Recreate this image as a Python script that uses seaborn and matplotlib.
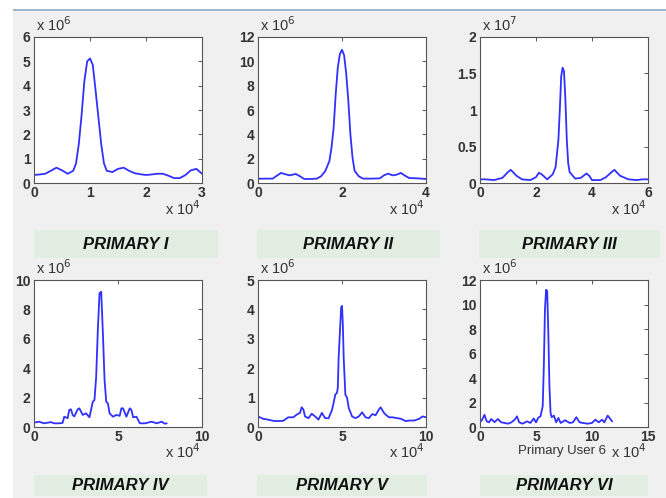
import numpy as np
import pandas as pd
import matplotlib
matplotlib.use("Agg")
import matplotlib.pyplot as plt
import matplotlib.ticker as mticker
from matplotlib.patches import Rectangle
import seaborn as sns

# ---------------- data (x in units of 1e4, y in units of the panel exponent) -------------
p1_x = [0, 0.1, 0.2, 0.3, 0.4, 0.5, 0.6, 0.7, 0.75, 0.8, 0.85, 0.9, 0.95, 1.0, 1.05, 1.1,
        1.15, 1.2, 1.25, 1.3, 1.4, 1.5, 1.6, 1.7, 1.8, 1.9, 2.0, 2.1, 2.2, 2.3, 2.4, 2.5,
        2.6, 2.7, 2.8, 2.9, 3.0]
p1_y = [0.33, 0.35, 0.38, 0.5, 0.63, 0.52, 0.38, 0.5, 0.8, 1.6, 2.8, 4.2, 5.0, 5.12, 4.85, 3.8,
        2.7, 1.6, 0.8, 0.5, 0.45, 0.58, 0.63, 0.5, 0.4, 0.36, 0.33, 0.35, 0.38, 0.38, 0.3, 0.2,
        0.2, 0.32, 0.52, 0.58, 0.38]

p2_x = [0, 0.2, 0.35, 0.45, 0.55, 0.65, 0.75, 0.9, 1.0, 1.1, 1.25, 1.4, 1.5, 1.6, 1.7, 1.75,
        1.8, 1.85, 1.9, 1.95, 2.0, 2.05, 2.1, 2.15, 2.2, 2.25, 2.3, 2.4, 2.5, 2.7, 2.9, 3.0,
        3.1, 3.2, 3.3, 3.4, 3.5, 3.6, 3.8, 4.0]
p2_y = [0.35, 0.36, 0.36, 0.6, 0.83, 0.72, 0.63, 0.74, 0.55, 0.33, 0.33, 0.36, 0.55, 0.97, 1.8, 2.9,
        4.5, 7.3, 9.5, 10.6, 10.95, 10.5, 9.0, 6.8, 4.0, 2.1, 1.0, 0.55, 0.36, 0.36, 0.38, 0.63,
        0.77, 0.63, 0.68, 0.83, 0.6, 0.41, 0.38, 0.33]

p3_x = [0, 0.2, 0.5, 0.8, 1.0, 1.1, 1.3, 1.5, 1.8, 2.0, 2.1, 2.2, 2.4, 2.6, 2.7, 2.8, 2.85,
        2.9, 2.95, 3.0, 3.05, 3.1, 3.15, 3.2, 3.4, 3.6, 3.8, 3.9, 4.0, 4.3, 4.5, 4.7, 4.8,
        5.0, 5.3, 5.6, 5.8, 6.0]
p3_y = [0.05, 0.05, 0.04, 0.07, 0.15, 0.18, 0.1, 0.05, 0.04, 0.08, 0.14, 0.12, 0.05, 0.12, 0.22,
        0.59, 1.0, 1.46, 1.58, 1.53, 1.14, 0.59, 0.27, 0.15, 0.06, 0.07, 0.13, 0.1, 0.04, 0.04,
        0.08, 0.15, 0.18, 0.1, 0.05, 0.04, 0.05, 0.05]

p4_x = [0, 0.3, 0.6, 1.0, 1.2, 1.5, 1.7, 1.8, 2.0, 2.1, 2.2, 2.3, 2.4, 2.6, 2.7, 2.9, 3.1,
        3.3, 3.5, 3.6, 3.7, 3.8, 3.9, 4.0, 4.1, 4.2, 4.3, 4.4, 4.5, 4.7, 4.9, 5.1, 5.2,
        5.3, 5.5, 5.7, 5.8, 5.9, 6.1, 6.3, 6.6, 7.0, 7.3, 7.6, 7.8, 7.9]
p4_y = [0.3, 0.36, 0.25, 0.33, 0.25, 0.25, 0.28, 0.7, 0.6, 1.16, 1.2, 0.82, 0.72, 1.2, 1.27, 0.82,
        0.93, 0.66, 1.72, 1.84, 3.4, 6.6, 9.1, 9.2, 6.4, 3.2, 1.72, 1.6, 0.93, 0.7, 0.82, 0.76,
        1.27, 1.27, 0.7, 1.27, 1.16, 0.66, 0.7, 0.25, 0.25, 0.36, 0.25, 0.36, 0.22, 0.25]

p5_x = [0, 0.3, 0.6, 1.0, 1.5, 1.8, 2.1, 2.3, 2.5, 2.6, 2.7, 2.8, 3.0, 3.2, 3.4, 3.6, 3.8,
        4.0, 4.2, 4.4, 4.5, 4.6, 4.7, 4.75, 4.8, 4.9, 4.95, 5.0, 5.05, 5.1, 5.2, 5.3, 5.4,
        5.6, 5.8, 6.0, 6.2, 6.4, 6.6, 6.8, 7.0, 7.2, 7.3, 7.5, 7.6, 7.8, 8.0, 8.5, 8.8,
        9.0, 9.3, 9.6, 9.8, 10.0]
p5_y = [0.36, 0.28, 0.25, 0.2, 0.21, 0.33, 0.33, 0.42, 0.48, 0.67, 0.6, 0.36, 0.3, 0.45, 0.36, 0.25,
        0.48, 0.3, 0.3, 0.57, 0.82, 1.1, 1.16, 1.33, 2.36, 3.5, 4.07, 4.12, 3.5, 2.36, 1.1, 1.0,
        0.65, 0.36, 0.3, 0.36, 0.5, 0.33, 0.3, 0.44, 0.4, 0.6, 0.67, 0.48, 0.42, 0.33, 0.33,
        0.28, 0.2, 0.22, 0.22, 0.28, 0.36, 0.33]

p6_x = [0, 0.2, 0.4, 0.6, 0.8, 1.0, 1.3, 1.6, 1.9, 2.2, 2.5, 2.8, 3.1, 3.3, 3.5, 3.8, 4.2,
        4.5, 4.8, 5.0, 5.2, 5.4, 5.6, 5.7, 5.8, 5.9, 6.0, 6.1, 6.2, 6.3, 6.4, 6.6, 6.8,
        7.0, 7.2, 7.6, 8.0, 8.3, 8.6, 8.9, 9.2, 9.6, 10.0, 10.3, 10.6, 10.9, 11.1, 11.4,
        11.6, 11.8]
p6_y = [0.38, 0.6, 1.0, 0.46, 0.38, 0.65, 0.4, 0.65, 0.38, 0.33, 0.27, 0.38, 0.6, 0.87, 0.38, 0.27,
        0.46, 0.33, 0.7, 0.38, 0.76, 0.87, 1.7, 5.0, 9.6, 11.2, 11.1, 7.7, 3.3, 1.15, 0.8, 0.93,
        0.38, 0.74, 0.33, 0.55, 0.33, 0.38, 0.8, 0.38, 0.33, 0.27, 0.33, 0.6, 0.38, 0.6, 0.38,
        0.93, 0.7, 0.46]

titles = ["PRIMARY I", "PRIMARY II", "PRIMARY III", "PRIMARY IV", "PRIMARY V", "PRIMARY VI"]
y_exponents = [6, 6, 7, 6, 6, 6]
x_limits = [3, 4, 6, 10, 10, 15]
x_ticks = [[0, 1, 2, 3], [0, 2, 4], [0, 2, 4, 6], [0, 5, 10], [0, 5, 10], [0, 5, 10, 15]]
y_limits = [6, 12, 2, 10, 5, 12]
y_ticks = [[0, 1, 2, 3, 4, 5, 6], [0, 2, 4, 6, 8, 10, 12], [0, 0.5, 1, 1.5, 2],
           [0, 2, 4, 6, 8, 10], [0, 1, 2, 3, 4, 5], [0, 2, 4, 6, 8, 10, 12]]
xs = [p1_x, p2_x, p3_x, p4_x, p5_x, p6_x]
ys = [p1_y, p2_y, p3_y, p4_y, p5_y, p6_y]

# ---------------- style -------------
sns.set_style("white")
plt.rcParams["font.family"] = ["Liberation Sans", "DejaVu Sans"]
W, H = 666, 498
fig = plt.figure(figsize=(W / 100, H / 100), dpi=100)
fig.patch.set_facecolor("#f0f0f0")

# white strips at top/left and blue rule
fig.patches.append(Rectangle((0, 0), 13 / W, 1, transform=fig.transFigure,
                             facecolor="white", edgecolor="none", zorder=0))
fig.patches.append(Rectangle((0, 1 - 9 / H), 1, 9 / H, transform=fig.transFigure,
                             facecolor="white", edgecolor="none", zorder=0))
fig.patches.append(Rectangle((13 / W, 1 - 11 / H), 1, 2 / H, transform=fig.transFigure,
                             facecolor="#9fb3cc", edgecolor="none", zorder=1))

cols_px = [(34, 202), (258, 426), (480, 648)]
rows_px = [(37, 183), (280, 427)]
box_px = [[(34, 218), (257, 440), (479, 660)], [(34, 207), (257, 427), (480, 648)]]
box_y_px = [(230, 258), (475, 496)]
offset_y_px = [(31, 215), (274, 458)]

tick_color = "#333333"
for i in range(6):
    r, c = divmod(i, 3)
    x0, x1 = cols_px[c]
    y0, y1 = rows_px[r]
    ax = fig.add_axes([x0 / W, 1 - y1 / H, (x1 - x0) / W, (y1 - y0) / H])
    ax.set_facecolor("white")
    df = pd.DataFrame({"x": xs[i], "y": ys[i]})
    sns.lineplot(data=df, x="x", y="y", ax=ax, color="#3030ff", lw=1.3,
                 estimator=None, sort=False)
    ax.set_xlim(0, x_limits[i])
    ax.set_ylim(0, y_limits[i])
    ax.set_xticks(x_ticks[i])
    ax.set_yticks(y_ticks[i])
    ax.xaxis.set_major_formatter(mticker.FormatStrFormatter("%g"))
    ax.yaxis.set_major_formatter(mticker.FormatStrFormatter("%g"))
    ax.set_xlabel("")
    ax.set_ylabel("")
    ax.tick_params(direction="in", length=3, width=0.7, top=True, right=True,
                   colors="#555555", labelcolor=tick_color, labelsize=10, pad=2.5)
    for lab in ax.get_xticklabels() + ax.get_yticklabels():
        lab.set_fontweight("bold")
    for s in ax.spines.values():
        s.set_color("#555555")
        s.set_linewidth(0.8)

    # exponent labels
    oy_top, oy_bot = offset_y_px[r]
    fig.text((x0 + 2) / W, 1 - oy_top / H, r"x 10$^{%d}$" % y_exponents[i],
             fontsize=10.5, color=tick_color, ha="left", va="baseline")
    fig.text((x1 - 1) / W, 1 - oy_bot / H, r"x 10$^{4}$",
             fontsize=10.5, color=tick_color, ha="right", va="baseline")

    # label box
    bx0, bx1 = box_px[r][c]
    by0, by1 = box_y_px[r]
    fig.patches.append(Rectangle((bx0 / W, 1 - by1 / H), (bx1 - bx0) / W, (by1 - by0) / H,
                                 transform=fig.transFigure, facecolor="#e2eee2",
                                 edgecolor="none", zorder=1))
    fig.text((bx0 + bx1) / 2 / W, 1 - (by0 + by1) / 2 / H, titles[i], fontsize=12,
             fontweight="bold", fontstyle="italic", color="#111111",
             ha="center", va="center", zorder=3)

# x label of last panel
fig.text(562 / W, 1 - 451 / H, "Primary User 6", fontsize=9.5, color="#333333",
         ha="center", va="center")

fig.savefig("out.png", dpi=100, facecolor=fig.get_facecolor())
